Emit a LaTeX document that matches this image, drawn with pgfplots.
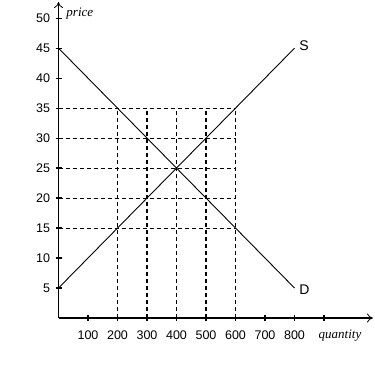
\documentclass[border=0pt]{standalone}
\usepackage{pgfplots}
\pgfplotsset{compat=1.18}
\usetikzlibrary{arrows.meta}
\usepackage{fontspec}
\setmainfont{Liberation Sans}
\newfontfamily\lab{Liberation Serif}
\begin{document}
\begin{tikzpicture}[x=1pt,y=1pt]
\path[use as bounding box] (0,0) rectangle (375,375);
\begin{axis}[
  at={(58.5pt,57pt)}, anchor=origin,
  scale only axis, width=314.5pt, height=316pt,
  xmin=0, xmax=1066, ymin=0, ymax=52.7,
  axis lines=left,
  axis line style={line width=1.2pt},
  x axis line style={-{To[length=6pt,width=9pt,line width=0.8pt]}},
  y axis line style={-{To[length=6pt,width=9pt,line width=0.8pt]}},
  xtick={100,200,300,400,500,600,700,800,900},
  xticklabels={100,200,300,400,500,600,700,800,},
  ytick={5,10,15,20,25,30,35,40,45,50},
  tick align=center, major tick length=6pt,
  tick style={line width=1.2pt, black},
  /pgf/number format/assume math mode=true,
  ticklabel style={font=\fontsize{12.5}{13}\selectfont},
  xticklabel style={yshift=-6pt},
  yticklabel style={xshift=-2pt},
  clip=false,
]
\addplot[black, line width=0.9pt] coordinates {(0,5) (800,45)} node[anchor=west, font=\fontsize{14}{15}\selectfont, xshift=1pt, yshift=2pt] {S};
\addplot[black, line width=0.9pt] coordinates {(0,45) (800,5)} node[anchor=west, font=\fontsize{14}{15}\selectfont, xshift=1pt, yshift=-2pt] {D};
\addplot[black, line width=1pt, dash pattern=on 4pt off 3pt] coordinates {(0,15) (600,15)};
\addplot[black, line width=1pt, dash pattern=on 4pt off 3pt] coordinates {(0,20) (600,20)};
\addplot[black, line width=1pt, dash pattern=on 4pt off 3pt] coordinates {(0,25) (600,25)};
\addplot[black, line width=1pt, dash pattern=on 4pt off 3pt] coordinates {(0,30) (600,30)};
\addplot[black, line width=1pt, dash pattern=on 4pt off 3pt] coordinates {(0,35) (600,35)};
\addplot[black, line width=1.1pt, dash pattern=on 4pt off 3pt] coordinates {(200,0) (200,35)};
\addplot[black, line width=1.1pt, dash pattern=on 4pt off 3pt] coordinates {(300,0) (300,35)};
\addplot[black, line width=1.1pt, dash pattern=on 4pt off 3pt] coordinates {(400,0) (400,35)};
\addplot[black, line width=1.1pt, dash pattern=on 4pt off 3pt] coordinates {(500,0) (500,35)};
\addplot[black, line width=1.1pt, dash pattern=on 4pt off 3pt] coordinates {(600,0) (600,35)};
\node[anchor=west, font=\lab\itshape\fontsize{13}{14}\selectfont] at (axis cs:15,50.8) {price};
\node[anchor=west, font=\lab\itshape\fontsize{13}{14}\selectfont] at (axis cs:870,-3) {quantity};
\end{axis}
\end{tikzpicture}
\end{document}
